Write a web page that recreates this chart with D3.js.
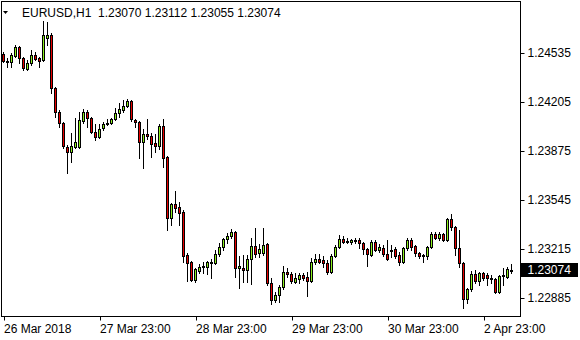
<!DOCTYPE html>
<html>
<head>
<meta charset="utf-8">
<script src="https://cdn.jsdelivr.net/npm/d3@7/dist/d3.min.js"></script>
<style>
  html, body { margin: 0; padding: 0; background: #fff; }
  svg { display: block; }
  text { font-family: "Liberation Sans", Arial, sans-serif; }
</style>
</head>
<body>
<svg id="chart" width="580" height="340"></svg>
<script>
// ---- data (EURUSD, H1) ----
const symbolTitle = "EURUSD,H1";
const openP = [
1.24528,1.24481,1.24475,1.24515,1.24576,1.24501,1.24427,1.24468,1.24522,1.24501,
1.24488,1.24636,1.24656,1.24299,1.24138,1.24064,1.23902,1.23868,1.23902,1.23902,
1.24077,1.24138,1.24097,1.24003,1.23969,1.24030,1.24064,1.24064,1.24091,1.24131,
1.24151,1.24178,1.24212,1.24084,1.24070,1.23936,1.23990,1.23976,1.23929,1.23909,
1.24043,1.23835,1.23424,1.23518,1.23498,1.23464,1.23175,1.23128,1.23006,1.23067,
1.23094,1.23094,1.23128,1.23121,1.23181,1.23229,1.23282,1.23303,1.23330,1.23087,
1.23087,1.23074,1.23148,1.23235,1.23188,1.23188,1.23249,1.22986,1.22872,1.22905,
1.22959,1.23060,1.23047,1.22993,1.23013,1.23040,1.23027,1.23000,1.23128,1.23148,
1.23141,1.23121,1.23060,1.23168,1.23229,1.23282,1.23269,1.23262,1.23269,1.23276,
1.23255,1.23215,1.23175,1.23262,1.23208,1.23222,1.23181,1.23202,1.23215,1.23175,
1.23128,1.23222,1.23276,1.23235,1.23188,1.23175,1.23168,1.23229,1.23316,1.23289,
1.23316,1.23276,1.23417,1.23363,1.23222,1.23121,1.22878,1.22946,1.23047,1.23000,
1.23053,1.23040,1.23020,1.23013,1.22925,1.23033,1.23027,1.23070];
const highP = [
1.24542,1.24501,1.24535,1.24589,1.24582,1.24508,1.24488,1.24555,1.24542,1.24508,
1.24751,1.24744,1.24670,1.24306,1.24151,1.24070,1.23915,1.23996,1.24097,1.24138,
1.24158,1.24151,1.24104,1.24057,1.24057,1.24070,1.24091,1.24097,1.24165,1.24198,
1.24218,1.24225,1.24218,1.24091,1.24077,1.24023,1.24091,1.23996,1.23990,1.24057,
1.24091,1.23841,1.23525,1.23606,1.23532,1.23478,1.23188,1.23135,1.23087,1.23114,
1.23128,1.23134,1.23148,1.23208,1.23255,1.23289,1.23323,1.23350,1.23336,1.23168,
1.23175,1.23175,1.23289,1.23357,1.23249,1.23357,1.23255,1.23020,1.22925,1.22973,
1.23101,1.23087,1.23060,1.23053,1.23053,1.23053,1.23060,1.23154,1.23181,1.23181,
1.23168,1.23141,1.23181,1.23242,1.23309,1.23303,1.23289,1.23282,1.23289,1.23289,
1.23262,1.23222,1.23276,1.23276,1.23249,1.23242,1.23276,1.23242,1.23229,1.23195,
1.23229,1.23289,1.23289,1.23242,1.23195,1.23180,1.23235,1.23330,1.23330,1.23330,
1.23323,1.23424,1.23451,1.23370,1.23343,1.23125,1.22952,1.23067,1.23074,1.23060,
1.23060,1.23053,1.23040,1.23020,1.23040,1.23087,1.23094,1.23112];
const lowP = [
1.24475,1.24441,1.24441,1.24508,1.24468,1.24421,1.24421,1.24454,1.24488,1.24441,
1.24481,1.24589,1.24266,1.24104,1.24037,1.23895,1.23727,1.23801,1.23895,1.23895,
1.24064,1.24037,1.23996,1.23949,1.23963,1.24017,1.24050,1.24057,1.24084,1.24104,
1.24138,1.24171,1.24077,1.24037,1.23828,1.23761,1.23956,1.23835,1.23868,1.23889,
1.23767,1.23343,1.23377,1.23464,1.23377,1.23128,1.23000,1.23000,1.22993,1.23053,
1.23053,1.23047,1.23020,1.23114,1.23168,1.23208,1.23255,1.23289,1.23027,1.22952,
1.22993,1.22993,1.22979,1.23161,1.23161,1.23175,1.22973,1.22845,1.22858,1.22858,
1.22946,1.23027,1.22986,1.22986,1.22986,1.23006,1.22898,1.22993,1.23114,1.23121,
1.23094,1.23047,1.23053,1.23161,1.23222,1.23255,1.23255,1.23249,1.23255,1.23222,
1.23181,1.23101,1.23168,1.23202,1.23195,1.23168,1.23141,1.23161,1.23154,1.23107,
1.23121,1.23208,1.23208,1.23168,1.23154,1.23128,1.23148,1.23222,1.23282,1.23276,
1.23269,1.23269,1.23343,1.23175,1.23094,1.22818,1.22851,1.22932,1.22986,1.22973,
1.23006,1.22973,1.22986,1.22920,1.22920,1.22973,1.23020,1.23055];
const closeP = [
1.24481,1.24475,1.24522,1.24576,1.24501,1.24434,1.24468,1.24522,1.24495,1.24481,
1.24656,1.24656,1.24299,1.24138,1.24064,1.23909,1.23868,1.23909,1.23936,1.24084,
1.24138,1.24097,1.24003,1.23969,1.24023,1.24057,1.24057,1.24091,1.24131,1.24158,
1.24178,1.24212,1.24091,1.24070,1.23936,1.23990,1.23976,1.23922,1.23909,1.24043,
1.23828,1.23424,1.23518,1.23491,1.23457,1.23168,1.23121,1.23006,1.23080,1.23094,
1.23101,1.23128,1.23121,1.23181,1.23229,1.23282,1.23303,1.23330,1.23087,1.23101,
1.23074,1.23148,1.23235,1.23181,1.23215,1.23242,1.22986,1.22872,1.22905,1.22959,
1.23060,1.23047,1.23000,1.23020,1.23040,1.23020,1.23000,1.23128,1.23148,1.23128,
1.23121,1.23060,1.23168,1.23229,1.23282,1.23262,1.23262,1.23276,1.23276,1.23255,
1.23215,1.23181,1.23262,1.23208,1.23229,1.23181,1.23148,1.23208,1.23168,1.23128,
1.23222,1.23276,1.23229,1.23188,1.23168,1.23168,1.23229,1.23316,1.23289,1.23316,
1.23276,1.23417,1.23363,1.23222,1.23121,1.22878,1.22946,1.23047,1.23000,1.23053,
1.23020,1.23020,1.23013,1.22925,1.23033,1.23040,1.23080,1.23074];
const priceTicks = [1.22885, 1.23215, 1.23545, 1.23875, 1.24205, 1.24535];
const timeTickIndex = [0, 24, 48, 72, 96, 120];
const timeTickLabels = ["26 Mar 2018", "27 Mar 23:00", "28 Mar 23:00", "29 Mar 23:00", "30 Mar 23:00", "2 Apr 23:00"];

// ---- layout ----
const fmt = d3.format(".5f");
const frame = { l: 1.5, t: 1.5, r: 520.5, b: 316.5 };
const bullColor = "#8cf01e", bearColor = "#e60000";

const svg = d3.select("#chart");
const bars = d3.range(openP.length).map(i => ({ i, o: openP[i], h: highP[i], l: lowP[i], c: closeP[i] }));

const x = d3.scaleBand().domain(d3.range(bars.length)).range([1.5, 1.5 + 4 * bars.length]);
const y = d3.scaleLinear().domain([1.22885, 1.24535]).range([298, 53]);
const cx = i => x(i) + x.bandwidth() / 2;
const py = p => Math.round(y(p));

svg.append("clipPath").attr("id", "plot").append("rect")
  .attr("x", frame.l).attr("y", frame.t).attr("width", frame.r - frame.l).attr("height", frame.b - frame.t);

const g = svg.append("g").attr("clip-path", "url(#plot)");
const candle = g.selectAll("g.c").data(bars).join("g").attr("class", "c");
candle.append("line")
  .attr("x1", d => cx(d.i)).attr("x2", d => cx(d.i))
  .attr("y1", d => py(d.h)).attr("y2", d => py(d.l) + 1)
  .attr("stroke", "#000").attr("stroke-width", 1);
candle.append("rect")
  .attr("x", d => cx(d.i) - 1)
  .attr("width", 2)
  .attr("y", d => py(Math.max(d.o, d.c)) + 0.5)
  .attr("height", d => Math.max(0, py(Math.min(d.o, d.c)) - py(Math.max(d.o, d.c))))
  .attr("fill", d => d.c >= d.o ? bullColor : bearColor)
  .attr("stroke", "#000").attr("stroke-width", 1);

// frame
svg.append("rect")
  .attr("x", frame.l).attr("y", frame.t)
  .attr("width", frame.r - frame.l).attr("height", frame.b - frame.t)
  .attr("fill", "none").attr("stroke", "#000").attr("stroke-width", 1);

// price axis
const yAxis = svg.append("g")
  .attr("transform", `translate(${frame.r},0)`)
  .call(d3.axisRight(y).tickValues(priceTicks).tickSize(4).tickPadding(3).tickFormat(fmt));
yAxis.select(".domain").remove();
yAxis.selectAll("text").attr("font-size", 12).attr("font-family", "Liberation Sans, Arial, sans-serif").attr("fill", "#000");
yAxis.selectAll("line").attr("stroke", "#000");

// current price label
const last = bars[bars.length - 1];
const ly = y(last.c);
svg.append("rect").attr("x", 521).attr("y", Math.round(ly) - 7).attr("width", 57).attr("height", 14).attr("fill", "#000");
svg.append("text").attr("x", 527.5).attr("y", ly).attr("dy", "0.35em")
  .attr("font-size", 12).attr("fill", "#fff").text(fmt(last.c));

// time axis
const xt = svg.append("g");
timeTickIndex.forEach((idx, k) => {
  const tx = Math.round(cx(idx)) + 0.5;
  xt.append("line").attr("x1", tx).attr("x2", tx).attr("y1", frame.b).attr("y2", frame.b + 4).attr("stroke", "#000");
  xt.append("text").attr("x", tx - 0.5).attr("y", 333).attr("font-size", 12).attr("fill", "#000").text(timeTickLabels[k]);
});

// title
svg.append("path").attr("d", "M3,11 L8,11 L5.5,14 Z").attr("fill", "#000");
svg.append("text").attr("x", 22).attr("y", 17).attr("font-size", 12).attr("fill", "#000")
  .style("white-space", "pre")
  .text(`${symbolTitle}  ${fmt(last.o)} ${fmt(last.h)} ${fmt(last.l)} ${fmt(last.c)}`);
</script>
</body>
</html>
